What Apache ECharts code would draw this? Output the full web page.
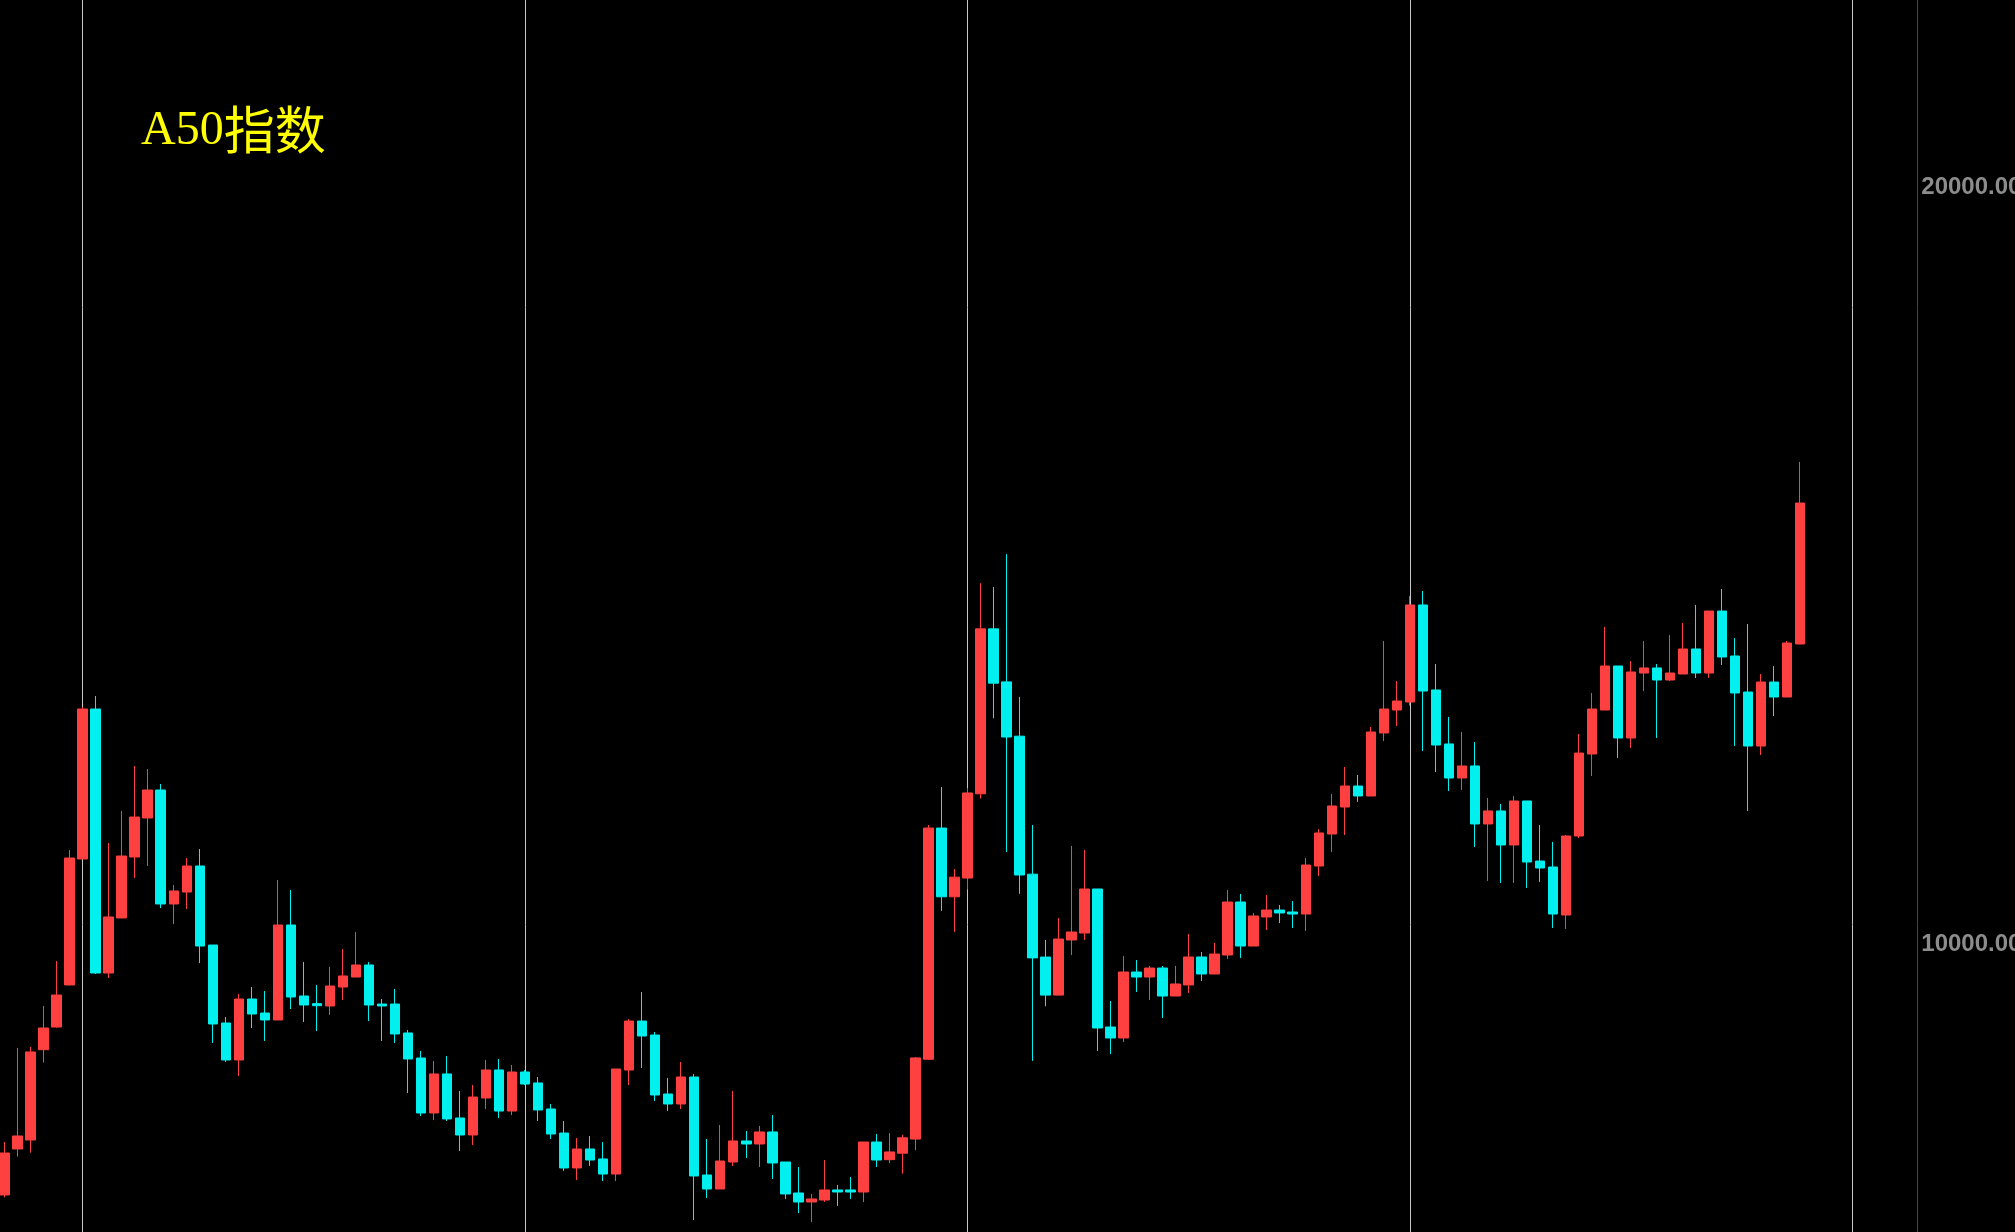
<!DOCTYPE html>
<html><head><meta charset="utf-8">
<script src="https://cdn.jsdelivr.net/npm/echarts@6/dist/echarts.min.js"></script>
<style>html,body{margin:0;padding:0;background:#000;overflow:hidden;} #c{width:2015px;height:1232px;}</style>
</head><body><div id="c"></div>
<script>
const titleLatin = 'A50';
const titleCjk = '指数';
const opens = [6680,7288,7407,8601,8901,9457,11123,13106,9615,10343,11149,11665,12035,10528,10686,11030,9985,8954,8465,9271,9086,8994,10250,9311,9210,9179,9430,9562,9721,9205,9205,8822,8491,7764,8280,7698,7473,7962,8333,7790,8306,8161,7817,7499,7037,7288,7156,6957,8332,8980,8795,8015,7883,8240,6944,6759,7116,7394,7354,7513,7116,6706,6587,6613,6746,6746,6719,7380,7147,7232,7419,8475,11532,10623,10871,11985,14166,13465,12747,10922,9826,9323,10052,10144,10726,8901,8756,9628,9562,9681,9311,9457,9827,9602,9853,10554,9972,10356,10448,10422,10395,11030,11453,11810,12088,11956,12789,13093,13199,14482,13358,12644,12194,12353,11586,11758,11308,11890,11096,11017,10382,11427,12511,13093,13675,12723,13582,13649,13490,13569,13900,13582,14402,13807,13331,12617,13463,13265,13966];
const closes = [7235,7460,8571,8888,9324,11136,13106,9615,10356,11162,11678,12035,10528,10700,11030,9972,8941,8465,9271,9073,8994,10250,9298,9192,9183,9443,9576,9721,9192,9179,8809,8478,7764,8280,7685,7473,7975,8333,7790,8306,8147,7804,7486,7037,7288,7142,6957,8346,8980,8782,8002,7883,8240,6931,6759,7129,7394,7354,7513,7103,6693,6587,6627,6746,6719,6719,7380,7142,7249,7436,8492,11532,10623,10883,11996,14166,13448,12736,10911,9815,9323,10064,10157,10726,8888,8756,9628,9562,9681,9311,9470,9827,9602,9866,10554,9972,10369,10448,10409,10395,11043,11467,11824,12088,11956,12802,13106,13212,14482,13344,12630,12194,12353,11586,11758,11308,11890,11083,11004,10395,11427,12524,13106,13675,12723,13596,13649,13490,13582,13900,13582,14402,13794,13318,12617,13463,13265,13979,15830];
const lows = [6649,7186,7239,8430,8892,9450,11123,9602,9549,10343,10872,11030,10475,10263,10462,9747,8690,8438,8253,8888,8716,8994,9139,8967,8848,9060,9258,9562,8980,8716,8690,8028,7724,7671,7658,7261,7341,7817,7698,7737,8134,7658,7420,6997,6878,7063,6865,6865,8134,8359,7923,7790,7817,6349,6640,6759,7063,7169,7050,6891,6627,6441,6322,6587,6534,6627,6587,7050,7102,6961,7272,8464,10436,10159,10720,11922,12985,11216,10662,8453,9176,9323,9853,10052,8584,8544,8703,9364,9258,9020,9311,9351,9509,9602,9800,9814,9972,10184,10276,10210,10171,10898,11215,11440,11877,11956,12683,12882,13150,12551,12273,12022,12035,11281,10832,10805,10805,10739,10819,10210,10197,11400,12220,13093,12458,12591,13344,12723,13477,13569,13516,13516,13688,12617,11757,12498,13014,13265,13966];
const highs = [7380,8623,8637,9179,9774,11242,13130,13278,11334,11758,12353,12313,12115,10779,11136,11255,9985,9033,9338,9430,9377,10845,10713,9761,9457,9695,9933,10157,9761,9271,9404,8861,8584,8452,8518,8055,8134,8465,8478,8399,8330,8240,7883,7658,7433,7460,7380,8346,9007,9364,8835,8227,8438,8280,7420,7605,8055,7526,7592,7737,7116,7050,6693,7142,6812,6918,7380,7486,7498,7475,8504,11572,12075,10990,12060,14770,14720,15155,13267,11572,10052,10341,11295,11242,10726,9245,9840,9787,9708,9708,9708,10131,9893,10012,10713,10660,10409,10647,10514,10567,11136,11519,11982,12339,12234,12868,14006,13477,14600,14667,13701,13001,12802,12670,11929,11850,11956,11890,11572,11348,11440,12776,13318,14191,13675,13741,14006,13701,14085,14244,14482,14402,14693,14045,14230,13569,13675,14006,16373];
const slotCount = 148;
const categories = Array.from({length: slotCount}, (_, i) => String(i + 1));
const gridLineSlots = [6, 40, 74, 108, 142];
const yTicks = [10000, 20000];

const candles = opens.map((o, i) => [o, closes[i], lows[i], highs[i]]);

const chart = echarts.init(document.getElementById('c'), null, {renderer: 'canvas'});
chart.setOption({
  backgroundColor: '#000000',
  animation: false,
  title: {
    text: '{a|' + titleLatin + '}{b|' + titleCjk + '}', left: 141, top: 104, padding: 0,
    textStyle: {
      color: '#ffff00', fontSize: 52, fontWeight: 'normal',
      rich: {
        a: {color: '#ffff00', fontSize: 48, fontFamily: "'Liberation Serif', serif", verticalAlign: 'bottom'},
        b: {color: '#ffff00', fontSize: 51, fontFamily: "'Noto Sans CJK SC', sans-serif", verticalAlign: 'bottom'}
      }
    }
  },
  grid: {left: 4.6, right: 97.7, top: -568.5, height: 2268.6, containLabel: false, outerBoundsMode: 'none'},
  xAxis: {
    type: 'category', data: categories, boundaryGap: false,
    axisLine: {show: false}, axisTick: {show: false}, axisLabel: {show: false},
    splitLine: {show: true, interval: (idx) => gridLineSlots.indexOf(idx) >= 0,
      lineStyle: {color: '#c8c8c8', width: 1}}
  },
  yAxis: {
    type: 'value', position: 'right', min: 0, max: 30000, interval: 10000, scale: false,
    axisLine: {show: true, lineStyle: {color: '#a81e12', width: 1}},
    axisTick: {show: false}, splitLine: {show: false},
    axisLabel: {color: '#8c8c8c', fontSize: 24, fontWeight: 'bold', margin: 4,
      fontFamily: "'Liberation Sans', Arial, sans-serif",
      formatter: (v) => yTicks.indexOf(v) >= 0 ? v.toFixed(2) : ''}
  },
  series: [{
    type: 'candlestick', data: candles, barWidth: 10, clip: false, silent: true,
    itemStyle: {color: '#ff4040', color0: '#00f0f0', borderColor: '#ff4040', borderColor0: '#00f0f0', borderWidth: 1}
  }]
});
</script></body></html>
